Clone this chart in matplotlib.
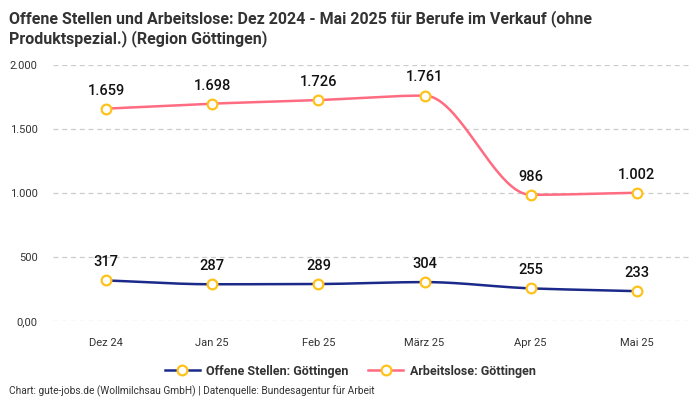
import matplotlib.pyplot as plt
import numpy as np

# Daten
monate = ['Dez 24', 'Jan 25', 'Feb 25', 'März 25', 'Apr 25', 'Mai 25']
offene_stellen = [317, 287, 289, 304, 255, 233]
arbeitslose = [1659, 1698, 1726, 1761, 986, 1002]
yticks = [0, 500, 1000, 1500, 2000]
ytick_labels = ['0,00', '500', '1.000', '1.500', '2.000']


def monoton(x, y, n=40):
    # monotone kubische Interpolation (Fritsch-Carlson)
    x = np.asarray(x, float)
    y = np.asarray(y, float)
    h = np.diff(x)
    d = np.diff(y) / h
    m = np.zeros(len(x))
    m[0] = d[0]
    m[-1] = d[-1]
    for i in range(1, len(x) - 1):
        if d[i - 1] * d[i] <= 0:
            m[i] = 0
        else:
            m[i] = 2 / (1 / d[i - 1] + 1 / d[i])
    xs, ys = [], []
    for i in range(len(x) - 1):
        t = np.linspace(0, 1, n)
        h00 = 2 * t**3 - 3 * t**2 + 1
        h10 = t**3 - 2 * t**2 + t
        h01 = -2 * t**3 + 3 * t**2
        h11 = t**3 - t**2
        xs.extend(x[i] + t * h[i])
        ys.extend(h00 * y[i] + h10 * h[i] * m[i] + h01 * y[i + 1] + h11 * h[i] * m[i + 1])
    return np.array(xs), np.array(ys)


def fmt(v):
    return f'{v:,}'.replace(',', '.')


plt.rcParams['font.family'] = ['Roboto', 'DejaVu Sans']

fig = plt.figure(figsize=(7, 4), dpi=100)
ax = fig.add_axes([0.0757, 0.1975, 0.91, 0.64])

x = np.arange(len(monate))
blau = '#1b2a8a'
rosa = '#ff6b81'
gelb = '#ffc21a'

for werte, farbe, name in [(offene_stellen, blau, 'Offene Stellen: Göttingen'),
                           (arbeitslose, rosa, 'Arbeitslose: Göttingen')]:
    xs, ys = monoton(x, werte)
    ax.plot(xs, ys, color=farbe, lw=1.8, zorder=2)
    ax.plot(x, werte, ls='none', marker='o', ms=7, mfc='white', mec=gelb, mew=1.6,
            zorder=3, clip_on=False)
    ax.plot([], [], color=farbe, lw=1.8, marker='o', ms=7, mfc='white', mec=gelb,
            mew=1.6, label=name)
    for xi, v in zip(x, werte):
        ax.annotate(fmt(v), (xi, v), xytext=(0, 8), textcoords='offset points',
                    ha='center', va='bottom', fontsize=10.5, fontweight='medium',
                    color='#111111')

ax.set_xlim(-0.5, 5.5)
ax.set_ylim(0, 2000)
ax.set_xticks(x)
ax.set_xticklabels(monate, fontsize=8, color='#333333')
ax.set_yticks(yticks)
ax.set_yticklabels(ytick_labels, fontsize=8, color='#333333')
ax.tick_params(length=0, pad=12)
ax.tick_params(axis='y', pad=11)
ax.grid(axis='y', color='#cccccc', ls=(0, (4, 3)), lw=0.9)
ax.set_axisbelow(True)
for s in ax.spines.values():
    s.set_visible(False)

leg = fig.legend(loc='center', bbox_to_anchor=(0.5, 0.0725), ncol=2, frameon=False,
                 fontsize=9, handlelength=2.8, handletextpad=0.5, columnspacing=1.6)
for t in leg.get_texts():
    t.set_fontweight('bold')
    t.set_color('#333333')

fig.text(0.013, 0.975, 'Offene Stellen und Arbeitslose: Dez 2024 - Mai 2025 für Berufe im Verkauf (ohne\n'
         'Produktspezial.) (Region Göttingen)', ha='left', va='top', fontsize=11.5,
         fontweight='bold', color='#333333', linespacing=1.25)
fig.text(0.013, 0.008, 'Chart: gute-jobs.de (Wollmilchsau GmbH) | Datenquelle: Bundesagentur für Arbeit',
         ha='left', va='bottom', fontsize=7.3, color='#333333')

fig.savefig('out.png', dpi=100)
